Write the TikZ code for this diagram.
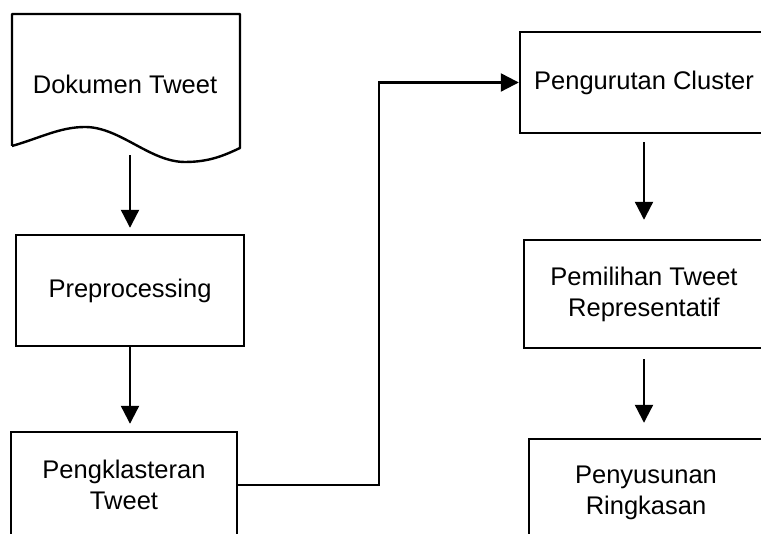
\documentclass[tikz,border=0pt]{standalone}
\usepackage{fontspec}
\setmainfont{Liberation Sans}
\usetikzlibrary{arrows.meta}

\begin{document}
\begin{tikzpicture}[
    x=1pt, y=1pt,
    box/.style={rectangle, draw=black, line width=2.4pt, align=center, font=\fontsize{25.5}{31}\selectfont},
    arrow/.style={-{Triangle[length=18pt, width=18pt]}, line width=2.2pt}
]

\clip (0,0) rectangle (761,534);

% Document shape
\draw[line width=2.4pt, line join=round] (12,388) -- (12,520) -- (240,520) -- (240,386)
    .. controls (225,379) and (210,372) .. (185,372)
    .. controls (150,372) and (120,407) .. (85,407)
    .. controls (60,407) and (40,396) .. (12,388);
\node[font=\fontsize{25.5}{31}\selectfont, minimum width=228pt, minimum height=141pt] (doc) at (125,449.5) {Dokumen Tweet};

% Boxes (left)
\node[box, minimum width=228pt, minimum height=111pt] (prep) at (130,243.5) {Preprocessing};
\node[box, minimum width=226pt, minimum height=106pt] (klas) at (124,49) {Pengklasteran\\Tweet};

% Boxes (right)
\node[box, minimum width=248pt, minimum height=101pt] (urut) at (644,451.5) {Pengurutan Cluster};
\node[box, minimum width=240pt, minimum height=108pt] (pemi) at (644,240) {Pemilihan Tweet\\Representatif};
\node[box, minimum width=234pt, minimum height=108pt] (peny) at (646,41) {Penyusunan\\Ringkasan};

% Arrows
\draw[arrow, shorten >=6pt] (prep.north |- doc.south) -- (prep.north);
\draw[arrow, shorten >=7pt] (prep.south) -- (prep.south |- klas.north);
\draw[arrow] (klas.east) -- ++(141,0) |- (urut.west);
\draw[arrow, shorten <=8pt, shorten >=19pt] (urut.south) -- (urut.south |- pemi.north);
\draw[arrow, shorten <=10pt, shorten >=15pt] (pemi.south) -- (pemi.south |- peny.north);

\end{tikzpicture}
\end{document}
